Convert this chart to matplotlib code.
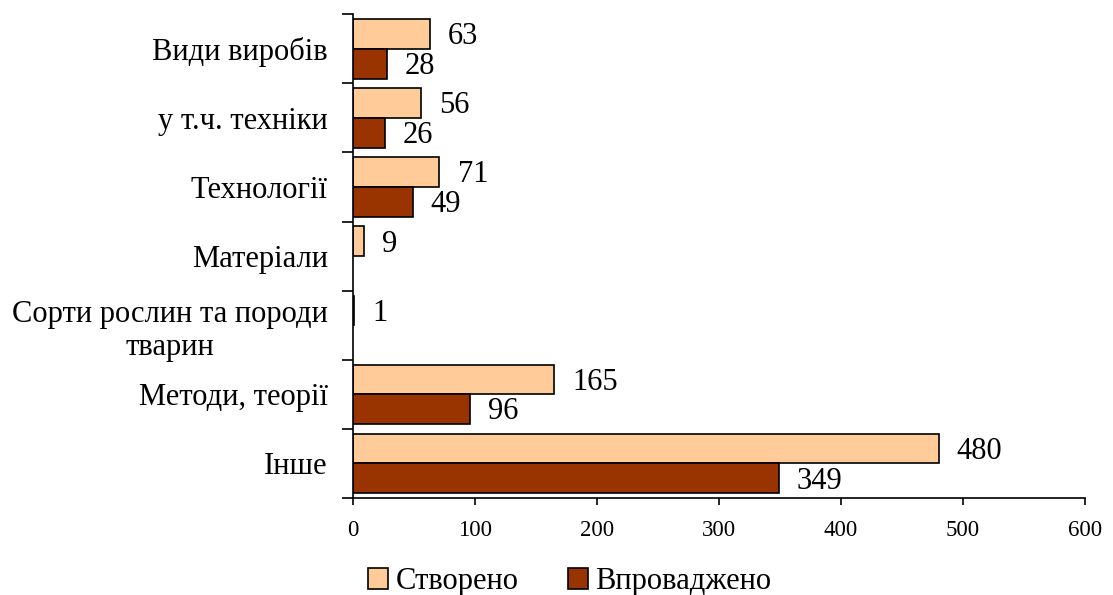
import matplotlib.pyplot as plt
import numpy as np

plt.rcParams['font.family'] = ['Liberation Serif', 'DejaVu Serif']

# Категорії (зверху вниз)
categories = ['Види виробів', 'у т.ч. техніки', 'Технології', 'Матеріали',
              'Сорти рослин та породи\nтварин', 'Методи, теорії', 'Інше']
created = [63, 56, 71, 9, 1, 165, 480]
implemented = [28, 26, 49, 0, 0, 96, 349]

fig = plt.figure(figsize=(11.13, 5.95), dpi=100)
ax = fig.add_axes([0.317, 0.163, 0.658, 0.813])

y = np.arange(len(categories))
h = 0.43
b1 = ax.barh(y - h / 2, created, height=h, color='#FFCC99', edgecolor='black', linewidth=1.2, label='Створено')
implemented_plot = [v if v > 0 else np.nan for v in implemented]
b2 = ax.barh(y + h / 2, implemented_plot, height=h, color='#993300', edgecolor='black', linewidth=1.2, label='Впроваджено')

# Підписи значень
for yi, v in zip(y, created):
    ax.annotate(str(v), (v, yi - h / 2), xytext=(13, -2), textcoords='offset points',
                va='center', ha='left', fontsize=22)
for yi, v in zip(y, implemented):
    if v > 0:
        ax.annotate(str(v), (v, yi + h / 2), xytext=(13, -2), textcoords='offset points',
                    va='center', ha='left', fontsize=22)

ax.set_ylim(len(categories) - 0.5, -0.5)
ax.set_xlim(0, 600)
ax.set_xticks(range(0, 601, 100))
ax.set_yticks(y)
ax.set_yticklabels(categories, fontsize=22, ha='right', multialignment='center')
ax.tick_params(axis='y', length=0, pad=18)
ax.set_yticks(np.arange(-0.5, len(categories) + 0.5, 1), minor=True)
ax.tick_params(axis='y', which='minor', length=8, width=1.2, direction='out')
ax.tick_params(axis='x', length=5, width=1.2, direction='out', labelsize=16.5, pad=11)

for s in ['top', 'right']:
    ax.spines[s].set_visible(False)
ax.spines['left'].set_linewidth(1.2)
ax.spines['bottom'].set_linewidth(1.2)

fig.legend(handles=[b1, b2], loc='center', bbox_to_anchor=(0.512, 0.022), ncol=2,
           frameon=False, fontsize=22, handlelength=0.65, handleheight=0.65,
           handletextpad=0.25, columnspacing=1.6, borderpad=0)

fig.savefig('out.png', dpi=100)
